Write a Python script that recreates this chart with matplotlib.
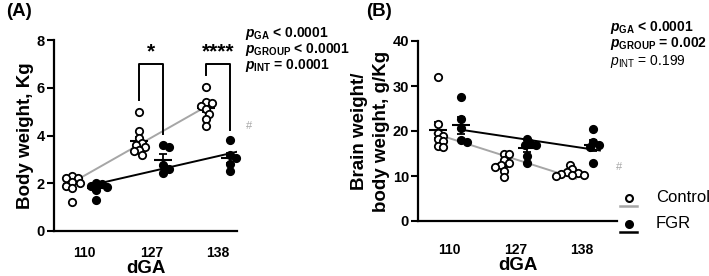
import numpy as np
import matplotlib
matplotlib.use("Agg")
import matplotlib.pyplot as plt

plt.rcParams['font.family'] = ['Liberation Sans', 'DejaVu Sans']
plt.rcParams['mathtext.fontset'] = 'custom'
plt.rcParams['mathtext.rm'] = 'Liberation Sans'
plt.rcParams['mathtext.it'] = 'Liberation Sans:italic'
plt.rcParams['mathtext.bf'] = 'Liberation Sans:bold'
plt.rcParams['mathtext.bfit'] = 'Liberation Sans:italic:bold'

# ---- data ----
dga = ['110', '127', '138']

# (A) body weight, Kg
bw_control = [[2.3, 2.2, 2.2, 2.05, 2.0, 1.9, 1.8, 1.2],
              [5.0, 4.2, 3.9, 3.7, 3.6, 3.5, 3.4, 3.35, 3.2],
              [6.05, 5.4, 5.35, 5.25, 5.1, 4.9, 4.7, 4.4]]
bw_fgr = [[2.0, 1.95, 1.9, 1.85, 1.7, 1.3],
          [3.6, 3.5, 2.75, 2.6, 2.45],
          [3.8, 3.2, 3.05, 2.8, 2.5]]
bw_stars = ['', '*', '****']
bw_p = [r'$\mathbfit{p}_{\mathbf{GA}}$ < 0.0001',
        r'$\mathbfit{p}_{\mathbf{GROUP}}$ < 0.0001',
        r'$\mathbfit{p}_{\mathbf{INT}}$ = 0.0001']

# (B) brain weight / body weight, g/Kg
br_control = [[31.9, 21.5, 19.5, 19.0, 18.3, 17.8, 16.6, 16.5],
              [15.0, 14.8, 13.5, 12.8, 12.5, 12.0, 11.2, 9.8],
              [12.5, 11.5, 11.0, 10.6, 10.4, 10.2, 10.0, 10.3]]
br_fgr = [[27.6, 22.6, 20.6, 17.9, 17.5],
          [18.3, 17.3, 17.0, 16.8, 14.5, 12.8],
          [20.5, 17.5, 16.8, 16.5, 13.0]]
br_p = [(r'$\mathbfit{p}_{\mathbf{GA}}$ < 0.0001', 'bold'),
        (r'$\mathbfit{p}_{\mathbf{GROUP}}$ = 0.002', 'bold'),
        (r'$\mathit{p}_{\mathrm{INT}}$ = 0.199', 'normal')]

OFF = 0.18
GRAY = '#a6a6a6'

fig = plt.figure(figsize=(7.09, 2.76), dpi=100)


def swarm(ax, xc, vals, d=7.0, gap=0.75):
    pts = ax.transData.transform([(xc, v) for v in vals])
    order = np.argsort(-np.asarray(vals))
    placed = {}
    cands = [0.0] + [s * i * 0.4 for i in range(1, 12) for s in (1, -1)]
    for i in order:
        px, py = pts[i]
        for c in cands:
            cx = px + c * d
            if all((cx - q[0]) ** 2 + (py - q[1]) ** 2 >= (gap * d) ** 2
                   for q in placed.values()):
                break
        placed[i] = (cx, py)
    inv = ax.transData.inverted()
    return np.array([inv.transform(placed[i])[0] for i in range(len(vals))])


def panel(ax, ctrl, fgr, ylim, yticks, xlim, xpad, lpad):
    ax.set_xlim(*xlim)
    ax.set_ylim(*ylim)
    ax.set_yticks(yticks)
    ax.set_xticks(range(len(dga)))
    ax.set_xticklabels(dga)
    for s in ['top', 'right']:
        ax.spines[s].set_visible(False)
    for s in ['left', 'bottom']:
        ax.spines[s].set_linewidth(1.6)
    ax.tick_params(axis='y', length=5, width=1.5, labelsize=10.5, pad=1.5)
    ax.tick_params(axis='x', length=0, labelsize=10, pad=xpad)
    for lab in ax.get_xticklabels() + ax.get_yticklabels():
        lab.set_fontweight('bold')
    ax.set_xlabel('dGA', fontsize=13.5, fontweight='bold', labelpad=lpad)

    # group means and regression lines
    for groups, off, col, fill, z in [(ctrl, -OFF, GRAY, 'white', 4),
                                      (fgr, OFF, 'black', 'black', 4)]:
        xs = np.arange(len(groups)) + off
        means = np.array([np.mean(g) for g in groups])
        sems = np.array([np.std(g, ddof=1) / np.sqrt(len(g)) for g in groups])
        k, b = np.polyfit(xs, means, 1)
        xl = np.array([xs[0] - 0.05, xs[-1] + 0.1])
        ax.plot(xl, k * xl + b, color=col, lw=1.4, zorder=2)
        for i, g in enumerate(groups):
            px = swarm(ax, xs[i], g)
            ax.plot(px, g, 'o', ms=5.3, mfc=fill, mec='black', mew=1.3,
                    zorder=z, clip_on=False)
        ez = 3 if fill == 'white' else 5
        ax.errorbar(xs, means, yerr=sems, fmt='none', ecolor='black',
                    elinewidth=1.3, capsize=3, capthick=1.3, zorder=ez)
        ax.plot(xs, means, '_', color='black', ms=13, mew=1.5, zorder=ez)


# ---- panel A ----
axA = fig.add_axes([54 / 709, 1 - 231 / 276, 183 / 709, 191 / 276])
panel(axA, bw_control, bw_fgr, (0, 8), [0, 2, 4, 6, 8], (-0.45, 2.28), 11, 0)
axA.set_ylabel('Body weight, Kg', fontsize=13.5, fontweight='bold', labelpad=2)
for i, st in enumerate(bw_stars):
    if not st:
        continue
    xl, xr = i - OFF, i + OFF
    yl = max(bw_control[i]) + 0.5
    yr = max(bw_fgr[i]) + 0.45
    top = 7.0
    axA.plot([xl, xl, xr, xr], [yl, top, top, yr], color='black',
             lw=1.4, zorder=2)
    axA.text(i, top + 0.1, st, ha='center', va='bottom', fontsize=15,
             fontweight='bold')
axA.text(2.42, 4.4, '#', color=GRAY, fontsize=8, ha='left', va='center')
for j, t in enumerate(bw_p):
    fig.text(245 / 709, 1 - (33 + 16.5 * j) / 276, t, fontsize=10,
             fontweight='bold', ha='left', va='center')
fig.text(6 / 709, 1 - 12 / 276, '(A)', fontsize=13.5, fontweight='bold',
         ha='left', va='center')

# ---- panel B ----
axB = fig.add_axes([418 / 709, 1 - 221 / 276, 199 / 709, 180 / 276])
panel(axB, br_control, br_fgr, (0, 40), [0, 10, 20, 30, 40], (-0.48, 2.54),
      16, 0)
axB.set_ylabel('Brain weight/\nbody weight, g/Kg', fontsize=13.5,
               fontweight='bold', labelpad=2, linespacing=1.35)
axB.text(2.52, 12, '#', color=GRAY, fontsize=8, ha='left', va='center')
for j, (t, w) in enumerate(br_p):
    fig.text(610 / 709, 1 - (27 + 17 * j) / 276, t, fontsize=10,
             fontweight=w, ha='left', va='center')
fig.text(366 / 709, 1 - 12 / 276, '(B)', fontsize=13.5, fontweight='bold',
         ha='left', va='center')

# ---- legend ----
axL = fig.add_axes([612 / 709, 1 - 242 / 276, 97 / 709, 56 / 276])
axL.set_xlim(0, 97)
axL.set_ylim(56, 0)
axL.axis('off')
for y, lab, col, fill in [(12, 'Control', GRAY, 'white'),
                          (38, 'FGR', 'black', 'black')]:
    axL.plot([8, 25], [y + 8, y + 8], color=col, lw=1.8)
    axL.plot([16.5], [y], 'o', ms=5, mfc=fill, mec='black', mew=1.5)
    axL.text(44, y, lab, fontsize=12, ha='left', va='center')

fig.savefig('out.png', dpi=100)
